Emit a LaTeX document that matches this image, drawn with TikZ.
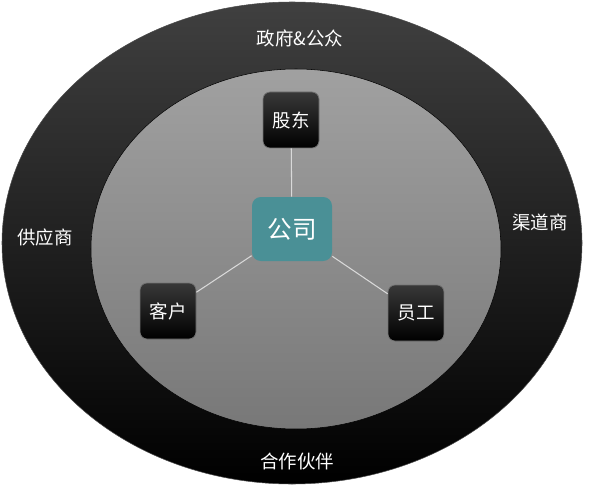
\documentclass[tikz,border=0pt]{standalone}
\usepackage{fontspec}
\setmainfont{Noto Sans CJK SC}
\usetikzlibrary{calc}
\definecolor{gongsi}{RGB}{74,144,150}
\tikzset{party/.style={draw=black!55,rounded corners=4pt,top color=black!78,bottom color=black,text=white,minimum width=1.12cm,minimum height=1.12cm,inner sep=0pt,font=\fontsize{10.5pt}{12pt}\selectfont}}
\tikzset{ringlabel/.style={text=white,font=\fontsize{10.5pt}{12pt}\selectfont}}
\tikzset{link/.style={draw=white!85!black,line width=0.6pt}}

\begin{document}
\begin{tikzpicture}
    		\useasboundingbox (0,0) rectangle (11.98,9.72);
    		% outer ring
    		\shade[top color=black!75,middle color=black,bottom color=black] (5.84,4.86) ellipse [x radius=5.8cm, y radius=4.82cm];
    		\draw[black!70,line width=0.3pt] (5.84,4.86) ellipse [x radius=5.8cm, y radius=4.82cm];
    		% inner ring
    		\shade[top color=black!37,bottom color=black!53] (5.92,4.74) ellipse [x radius=4.1cm, y radius=3.6cm];
    		\draw[black,line width=0.3pt] (5.92,4.74) ellipse [x radius=4.1cm, y radius=3.6cm];
    		\foreach \pos/\descr in {{(6.0,8.96)}/政府\&公众,{(0.9,4.98)}/供应商,{(10.8,5.28)}/渠道商,{(5.94,0.5)}/合作伙伴}
        	{
        		\node[ringlabel] at \pos {\descr};
        	}
    		\node[fill=gongsi,rounded corners=5pt,text=white,minimum width=1.6cm,minimum height=1.28cm,font=\fontsize{14pt}{16pt}\selectfont] (company) at (5.84,5.14) {公司};
    		\node[party] (holder) at (5.82,7.32) {股东};
    		\node[party] (client) at (3.36,3.50) {客户};
    		\node[party] (staff) at (8.32,3.46) {员工};
    		\draw[link] (company) -- (holder);
    		\draw[link] (company) -- (client);
    		\draw[link] (company) -- (staff);
		\end{tikzpicture}
\end{document}
